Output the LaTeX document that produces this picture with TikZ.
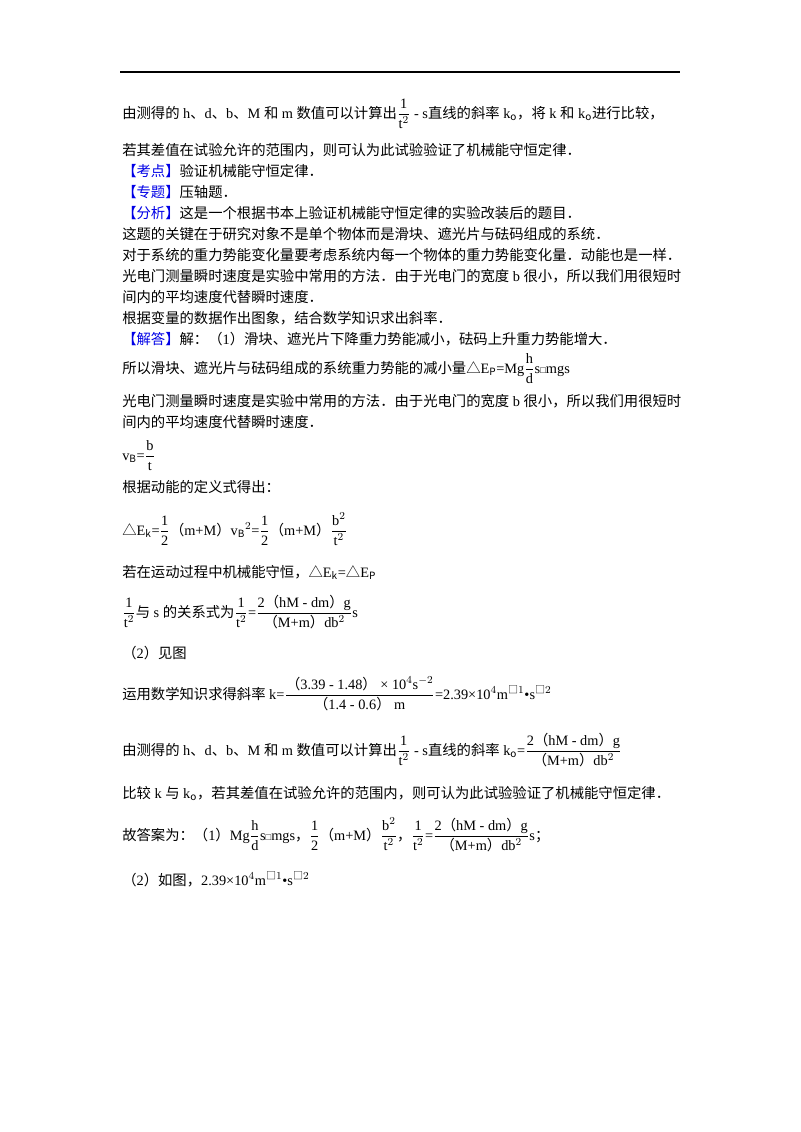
\documentclass[tikz,border=0pt]{standalone}
\usepackage{amsmath}
\usepackage{fontspec}
\setmainfont{Noto Sans CJK SC}
\newfontfamily\lt{Liberation Serif}
\definecolor{kb}{RGB}{0,0,230}
\newcommand{\fr}[2]{$\displaystyle\frac{\hbox{#1}}{\hbox{#2}}$}
\newcommand{\La}[1]{{\lt #1}}
\newcommand{\bx}{{\scriptsize □}}
\newcommand{\Dl}{{\rmfamily △}}
\newcommand{\hMdm}{\La{2}（\La{hM - dm}）\La{g}}
\newcommand{\Mmdb}{（\La{M+m}）\La{db$^2$}}
\begin{document}
\begin{tikzpicture}[x=0.75pt,y=-0.75pt,
  ln/.style={anchor=base west,inner sep=0pt,font=\fontsize{10.75}{12}\selectfont},
  kw/.style={text=kb}]
\useasboundingbox (0,0) rectangle (800,1132);
\draw[line width=0.8pt] (120,72) -- (680,72);
\node[ln] (l1) at (122,118) {由测得的\La{ h}、\La{d}、\La{b}、\La{M }和\La{ m }数值可以计算出\fr{\La{1}}{\La{t$^2$}}\La{ - s}直线的斜率\La{ k$_{\rm o}$}，将\La{ k }和\La{ k$_{\rm o}$}进行比较，};
\node[ln] (l2) at (122,155) {若其差值在试验允许的范围内，则可认为此试验验证了机械能守恒定律．};
\node[ln] (l3) at (122,176) {\textcolor{kb}{【考点】}验证机械能守恒定律．};
\node[ln] (l4) at (122,197) {\textcolor{kb}{【专题】}压轴题．};
\node[ln] (l5) at (122,218) {\textcolor{kb}{【分析】}这是一个根据书本上验证机械能守恒定律的实验改装后的题目．};
\node[ln] (l6) at (122,239) {这题的关键在于研究对象不是单个物体而是滑块、遮光片与砝码组成的系统．};
\node[ln] (l7) at (122,260) {对于系统的重力势能变化量要考虑系统内每一个物体的重力势能变化量．动能也是一样．};
\node[ln] (l8) at (122,281) {光电门测量瞬时速度是实验中常用的方法．由于光电门的宽度\La{ b }很小，所以我们用很短时};
\node[ln] (l9) at (122,302) {间内的平均速度代替瞬时速度．};
\node[ln] (l10) at (122,323) {根据变量的数据作出图象，结合数学知识求出斜率．};
\node[ln] (l11) at (122,344) {\textcolor{kb}{【解答】}解：（\La{1}）滑块、遮光片下降重力势能减小，砝码上升重力势能增大．};
\node[ln] (l12) at (122,373) {所以滑块、遮光片与砝码组成的系统重力势能的减小量\Dl\La{E$_{\rm P}$=Mg}\fr{\La{h}}{\La{d}}\La{s\bx mgs}};
\node[ln] (l13) at (122,406) {光电门测量瞬时速度是实验中常用的方法．由于光电门的宽度\La{ b }很小，所以我们用很短时};
\node[ln] (l14) at (122,427) {间内的平均速度代替瞬时速度．};
\node[ln] (l15) at (122,460) {\La{v$_{\rm B}$=}\fr{\La{b}}{\La{t}}};
\node[ln] (l16) at (122,492) {根据动能的定义式得出：};
\node[ln] (l17) at (122,535) {\Dl\La{E$_{\rm k}$=}\fr{\La{1}}{\La{2}}（\La{m+M}）\La{v$_{\rm B}$$^2$=}\fr{\La{1}}{\La{2}}（\La{m+M}）\fr{\La{b$^2$}}{\La{t$^2$}}};
\node[ln] (l18) at (122,577) {若在运动过程中机械能守恒，\Dl\La{E$_{\rm k}$=}\Dl\La{E$_{\rm P}$}};
\node[ln] (l19) at (122,617) {\fr{\La{1}}{\La{t$^2$}}与\La{ s }的关系式为\fr{\La{1}}{\La{t$^2$}}\La{=}\fr{\hMdm}{\Mmdb}\La{s}};
\node[ln] (l20) at (122,658) {（\La{2}）见图};
\node[ln] (l21) at (122,699) {运用数学知识求得斜率\La{ k=}\fr{（\La{3.39 - 1.48}）\La{ × 10$^4$s$^{-2}$}}{（\La{1.4 - 0.6}）\La{ m}}\La{=2.39×10$^4$m$^{\bx1}$•s$^{\bx2}$}};
\node[ln] (l22) at (122,755) {由测得的\La{ h}、\La{d}、\La{b}、\La{M }和\La{ m }数值可以计算出\fr{\La{1}}{\La{t$^2$}}\La{ - s}直线的斜率\La{ k$_{\rm o}$=}\fr{\hMdm}{\Mmdb}};
\node[ln] (l23) at (122,798) {比较\La{ k }与\La{ k$_{\rm o}$}，若其差值在试验允许的范围内，则可认为此试验验证了机械能守恒定律．};
\node[ln] (l24) at (122,840) {故答案为：（\La{1}）\La{Mg}\fr{\La{h}}{\La{d}}\La{s\bx mgs}，\fr{\La{1}}{\La{2}}（\La{m+M}）\fr{\La{b$^2$}}{\La{t$^2$}}，\fr{\La{1}}{\La{t$^2$}}\La{=}\fr{\hMdm}{\Mmdb}\La{s}；};
\node[ln] (l25) at (122,885) {（\La{2}）如图，\La{2.39×10$^4$m$^{\bx1}$•s$^{\bx2}$}};
\end{tikzpicture}
\end{document}
